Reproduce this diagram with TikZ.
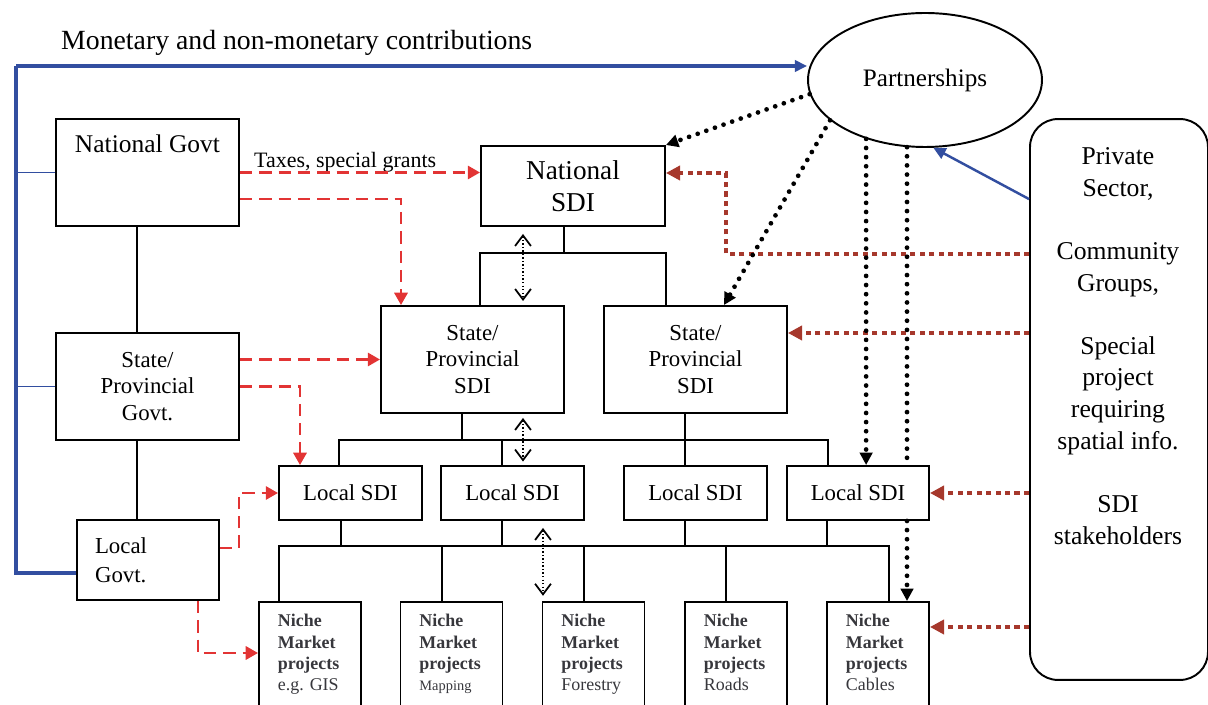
\documentclass[tikz,border=0pt]{standalone}
\usepackage{fontspec}
\setmainfont{Liberation Serif}
\usetikzlibrary{arrows.meta,shapes.geometric,calc}
\definecolor{blueline}{RGB}{50,78,160}
\definecolor{redline}{RGB}{226,52,52}
\definecolor{brownline}{RGB}{166,56,44}
\definecolor{nichetext}{RGB}{55,55,60}
\frenchspacing
\newcommand{\nichedepth}{\rule[-3pt]{0pt}{3pt}}
\tikzset{
  box/.style={draw, line width=1.1pt, inner sep=0pt},
  conn/.style={line width=1.2pt},
  bluethick/.style={draw=blueline, line width=1.8pt},
  bluethin/.style={draw=blueline, line width=0.9pt},
  bluearrow/.style={draw=blueline, line width=1.4pt, -{Triangle[length=7pt,width=6.5pt]}},
  reddash/.style={draw=redline, line width=1.5pt, dash pattern=on 7pt off 4pt, -{Triangle[length=7pt,width=7.5pt]}},
  brownarrow/.style={draw=brownline, line width=2.8pt, dash pattern=on 2.9pt off 2.5pt, -{Triangle[length=8pt,width=8pt]}},
  blackdot/.style={draw=black, line width=2.7pt, dash pattern=on 0pt off 5.2pt, line cap=round},
  blackdotarrow/.style={blackdot, -{Triangle[length=7pt,width=7pt]}},
  dbl/.style={draw=black, line width=0.8pt, dash pattern=on 0.8pt off 1.2pt, {Straight Barb[length=6pt,width=9pt,line width=1pt]}-{Straight Barb[length=6pt,width=9pt,line width=1pt]}},
  fbig/.style={font=\fontsize{14.5}{17}\selectfont},
  fmid/.style={font=\fontsize{13}{15.1}\selectfont},
  niche/.style={box, minimum width=2.04cm, minimum height=2.12cm, text width=36.5pt, align=left, text=nichetext, font=\fontsize{10.2}{12}\selectfont\bfseries},
}
\begin{document}
\begin{tikzpicture}[x=0.02cm,y=-0.02cm]
\useasboundingbox (0,0) rectangle (1208,705);
\clip (0,0) rectangle (1208,705);

% ---------- nodes ----------
\node[box, fbig, minimum width=3.66cm, minimum height=2.14cm, text height=19.3pt, text depth=41.6pt] (ngov) at (147.5,172.5) {National Govt};
\node[box, fmid, align=center, minimum width=3.66cm, minimum height=2.14cm] (sgov) at (147.5,386.5) {State/\\Provincial\\Govt.};
\node[box, align=left, text width=60.3pt, minimum width=2.84cm, minimum height=1.6cm, font=\fontsize{13}{16.5}\selectfont] (lgov) at (148,560) {Local\\Govt.};

\node[box, align=center, minimum width=3.68cm, minimum height=1.6cm, font=\fontsize{15.5}{18.2}\selectfont] (nsdi) at (573,186) {National\\SDI};
\node[box, fmid, align=center, minimum width=3.66cm, minimum height=2.14cm] (ssdi1) at (472.5,359.5) {State/\\Provincial\\SDI};
\node[box, fmid, align=center, minimum width=3.66cm, minimum height=2.14cm] (ssdi2) at (695.5,359.5) {State/\\Provincial\\SDI};

\node[box, fmid, minimum width=2.86cm, minimum height=1.08cm] (lsdi1) at (350.5,493) {Local SDI};
\node[box, fmid, minimum width=2.86cm, minimum height=1.08cm] (lsdi2) at (512.5,493) {Local SDI};
\node[box, fmid, minimum width=2.86cm, minimum height=1.08cm] (lsdi3) at (695.5,493) {Local SDI};
\node[box, fmid, minimum width=2.84cm, minimum height=1.08cm] (lsdi4) at (858,493) {Local SDI};

\node[niche] (n1) at (310,655) {Niche\\Market\\projects\\\mdseries e.g. GIS\nichedepth};
\node[niche] (n2) at (451.5,655) {Niche\\Market\\projects\\\mdseries\fontsize{8.2}{12}\selectfont Mapping\nichedepth};
\node[niche] (n3) at (593.5,655) {Niche\\Market\\projects\\\mdseries Forestry\nichedepth};
\node[niche] (n4) at (736,655) {Niche\\Market\\projects\\\mdseries Roads\nichedepth};
\node[niche] (n5) at (878,655) {Niche\\Market\\projects\\\mdseries Cables\nichedepth};

\node[draw, ellipse, line width=1.1pt, minimum width=4.68cm, minimum height=2.68cm, inner sep=0pt, font=\fontsize{14.3}{17}\selectfont] (pship) at (925,80) {Partnerships};

\node[draw, rounded corners=15.9pt, line width=1.1pt, minimum width=3.56cm, minimum height=11.22cm, inner sep=0pt] (priv) at (1119,399.5) {};
\node[align=center, font=\fontsize{14.6}{18}\selectfont] (privtext) at (1118,346) {Private\\Sector,\\[18pt]Community\\Groups,\\[18pt]Special\\project\\requiring\\spatial info.\\[18pt]SDI\\stakeholders};

\node[anchor=base west, font=\fontsize{15.8}{18}\selectfont] (contrib) at (55,50) {Monetary and non-monetary contributions};
\node[anchor=base west, font=\fontsize{12.5}{15}\selectfont] (taxes) at (248,168) {Taxes, special grants};

\coordinate (tt) at (16,66);
\coordinate (bl) at (16,573);

% ---------- blue ----------
\draw[bluethick] (lgov.west |- bl) -- (bl) -- (tt);
\draw[bluethick, -{Triangle[length=7pt,width=6.5pt]}] (tt) -- (tt -| pship.west);
\draw[bluethin] (ngov.west) -- (ngov.west -| tt);
\draw[bluethin] (sgov.west) -- (sgov.west -| tt);
\draw[bluearrow] ($(priv.north west)+(0,81)$) -- (pship.-83);

% ---------- black hierarchy ----------
\draw[conn] (137,0 |- ngov.south) -- (137,0 |- sgov.north);
\draw[conn] (137,0 |- sgov.south) -- (137,0 |- lgov.north);

\draw[conn] (564,0 |- nsdi.south) -- (564,253);
\draw[conn] (nsdi.west |- ssdi1.north) -- (nsdi.west |- 0,253) -- (nsdi.east |- 0,253) -- (nsdi.east |- ssdi2.north);

\draw[conn] (462,0 |- ssdi1.south) -- (462,440);
\draw[conn] (685,0 |- ssdi2.south) -- (685,0 |- lsdi3.north);
\draw[conn] (339,0 |- lsdi1.north) -- (339,440) -- (828,440) -- (828,0 |- lsdi4.north);
\draw[conn] (502,440) -- (502,0 |- lsdi2.north);

\draw[conn] (341,0 |- lsdi1.south) -- (341,546);
\draw[conn] (502,0 |- lsdi2.south) -- (502,546);
\draw[conn] (685,0 |- lsdi3.south) -- (685,546);
\draw[conn] (827,0 |- lsdi4.south) -- (827,546);
\draw[conn] (279,0 |- n1.north) -- (279,546) -- (889,546) -- (889,0 |- n5.north);
\draw[conn] (442,546) -- (442,0 |- n2.north);
\draw[conn] (584,546) -- (584,0 |- n3.north);
\draw[conn] (726,546) -- (726,0 |- n4.north);

% ---------- red dashed ----------
\draw[reddash] (ngov.east) -- (ngov.east -| nsdi.west);
\draw[reddash] (ngov.east |- 0,199) -- (401,199) -- (401,0 |- ssdi1.north);
\draw[reddash] (sgov.east |- ssdi1.west) -- (ssdi1.west);
\draw[reddash] (sgov.east) -- (300,386.5) -- (300,0 |- lsdi1.north);
\draw[reddash] (lgov.east |- 0,548) -- (239,548) -- (239,0 |- lsdi1.west) -- (lsdi1.west);
\draw[reddash] (198,0 |- lgov.south) -- (198,653) -- (n1.west |- 0,653);

% ---------- brown dotted ----------
\draw[brownarrow] (priv.west |- 0,254) -- (726,254) -- (726,173) -- (nsdi.east |- 0,173);
\draw[brownarrow] (priv.west |- 0,333) -- (ssdi2.east |- 0,333);
\draw[brownarrow] (priv.west |- lsdi4.east) -- (lsdi4.east);
\draw[brownarrow] (priv.west |- 0,627) -- (n5.east |- 0,627);

% ---------- black dotted from partnerships ----------
\draw[blackdotarrow] (pship.187) -- (nsdi.north east);
\draw[blackdotarrow] (pship.203) -- (724,0 |- ssdi2.north);
\draw[blackdotarrow] (pship.225.7) -- (pship.225.7 |- lsdi4.north);
\draw[blackdot] (pship.255.6) -- (pship.255.6 |- lsdi4.north);
\draw[blackdotarrow] (pship.255.6 |- lsdi4.south) -- (pship.255.6 |- n5.north);

% ---------- thin dotted double arrows ----------
\draw[dbl, shorten <=4pt, shorten >=2.3pt] (523,0 |- nsdi.south) -- (523,0 |- ssdi1.north);
\draw[dbl, shorten <=2.3pt, shorten >=2pt] (523,0 |- ssdi1.south) -- (523,0 |- lsdi1.north);
\draw[dbl, shorten <=4pt, shorten >=3pt] (543,0 |- lsdi2.south) -- (543,0 |- n3.north);
\end{tikzpicture}
\end{document}
